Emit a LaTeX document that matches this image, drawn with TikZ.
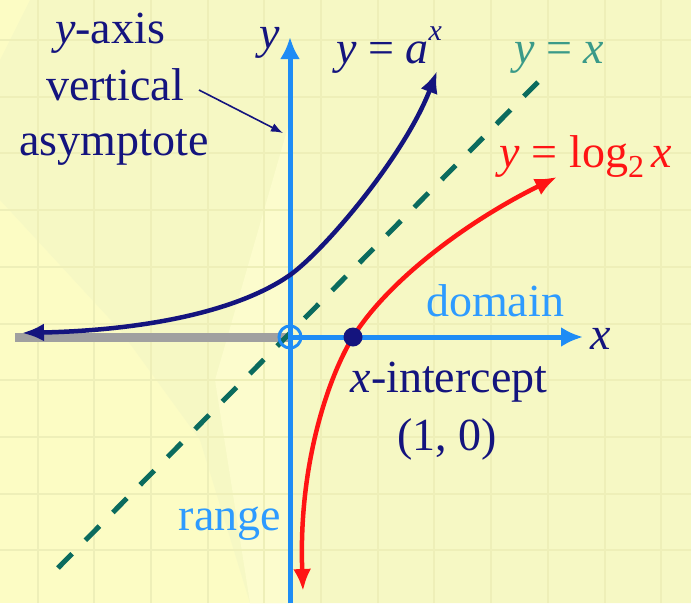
\documentclass[tikz,border=0pt]{standalone}
\usepackage{fontspec}
\setmainfont{Liberation Serif}
\usetikzlibrary{arrows.meta}
\definecolor{bg}{HTML}{FCFCC4}
\definecolor{bandc}{HTML}{F6F8C4}
\definecolor{gridc}{HTML}{EEEFB8}
\definecolor{navy}{HTML}{14147E}
\definecolor{axisblue}{HTML}{1E8CF5}
\definecolor{lblue}{HTML}{2E9BFF}
\definecolor{tealtxt}{HTML}{3A9A88}
\definecolor{tealdash}{HTML}{0B6B5E}
\definecolor{redc}{HTML}{FF1414}
\definecolor{grayc}{HTML}{A0A0A0}
\begin{document}
\begin{tikzpicture}[x=1pt,y=-1pt,
  txt/.style={font=\fontsize{46}{56}\selectfont, inner sep=0pt, anchor=base},
  axisline/.style={draw=axisblue, line width=5pt, -{Latex[length=22pt,width=20pt]}},
  curveline/.style={line width=4.5pt, line cap=round},
]
\useasboundingbox (0,0) rectangle (691,603);
\fill[bg] (0,0) rectangle (691,603);
% subtle diagonal band
\fill[bandc] (30,0) -- (691,0) -- (691,603) -- (250,603) -- (200,440) -- (120,330) -- (0,200) -- (0,60) -- cycle;
\fill[bg!85!white] (215,380) -- (290,120) -- (290,603) -- (250,603) -- cycle;
% grid
\foreach \i in {0,...,11} {\draw[gridc, line width=2pt] (37.5+56.7*\i,0) -- (37.5+56.7*\i,603);}
\foreach \j in {0,...,10} {\draw[gridc, line width=2pt] (0,40+56.7*\j) -- (691,40+56.7*\j);}

\coordinate (O) at (290,337);
\coordinate (xend) at (583,337);
\coordinate (ytop) at (290,37);
\coordinate (ybot) at (290,603);
\coordinate (gleft) at (15,337);
\coordinate (dA) at (58,568);
\coordinate (dB) at (540,80);
\coordinate (tipA) at (283,133);
\coordinate (bL) at (22,333);
\coordinate (bY) at (290,275);
\coordinate (bT) at (437,71);
\coordinate (rB) at (303,591);
\coordinate (rX) at (353,337);
\coordinate (rT) at (557,177);

% gray negative x-axis
\draw[grayc, line width=9pt] (gleft) -- (O);
% y = x dashed
\draw[tealdash, line width=5pt, dash pattern=on 20pt off 19pt] (dA) -- (dB);
% axes
\draw[axisline] (O) -- (xend);
\draw[axisline] (ybot) -- (ytop);
% y = a^x
\draw[navy, curveline, {Latex[length=22pt,width=18pt]}-{Latex[length=22pt,width=18pt]}]
  (bL) .. controls (150,330) and (240,310) .. (bY)
       .. controls (325,250) and (405,155) .. (bT);
% y = log2 x
\draw[redc, curveline, {Latex[length=22pt,width=18pt]}-{Latex[length=22pt,width=18pt]}]
  (rB) .. controls (298,460) and (331,372) .. (rX)
       .. controls (385,285) and (460,225) .. (rT);
% open circle and intercept dot
\node[circle, draw=axisblue, line width=3pt, minimum size=22pt, inner sep=0pt] (oc) at (O) {};
\node[circle, fill=navy, minimum size=19pt, inner sep=0pt] (dot) at (rX) {};

% labels
\node[txt, navy] (yax) at (110,43) {\textit{y}-axis};
\node[txt, navy] (vert) at (115,100) {vertical};
\node[txt, navy] (asym) at (114,155) {asymptote};
\draw[navy, line width=1.6pt, -{Latex[length=12pt,width=9pt]}] (199,90) -- (tipA);
\node[txt, navy] (ylab) at (270,48) {\textit{y}};
\node[txt, navy] (yax2) at (389,63) {\textit{y} = \textit{a}\raisebox{0.5em}{\fontsize{30}{30}\selectfont\textit{x}}};
\node[txt, tealtxt] (yx) at (559,63) {\textit{y} = \textit{x}};
\node[txt, redc] (ylog) at (586,167) {\textit{y} = log\raisebox{-0.22em}{\fontsize{32}{32}\selectfont 2}\,\textit{x}};
\node[txt, lblue] (dom) at (495,316) {domain};
\node[txt, navy] (xlab) at (601,349) {\textit{x}};
\node[txt, navy] (xint) at (449,392) {\textit{x}-intercept};
\node[txt, navy] (pt) at (447,450) {(1, 0)};
\node[txt, lblue] (rng) at (230,530) {range};
\end{tikzpicture}
\end{document}
